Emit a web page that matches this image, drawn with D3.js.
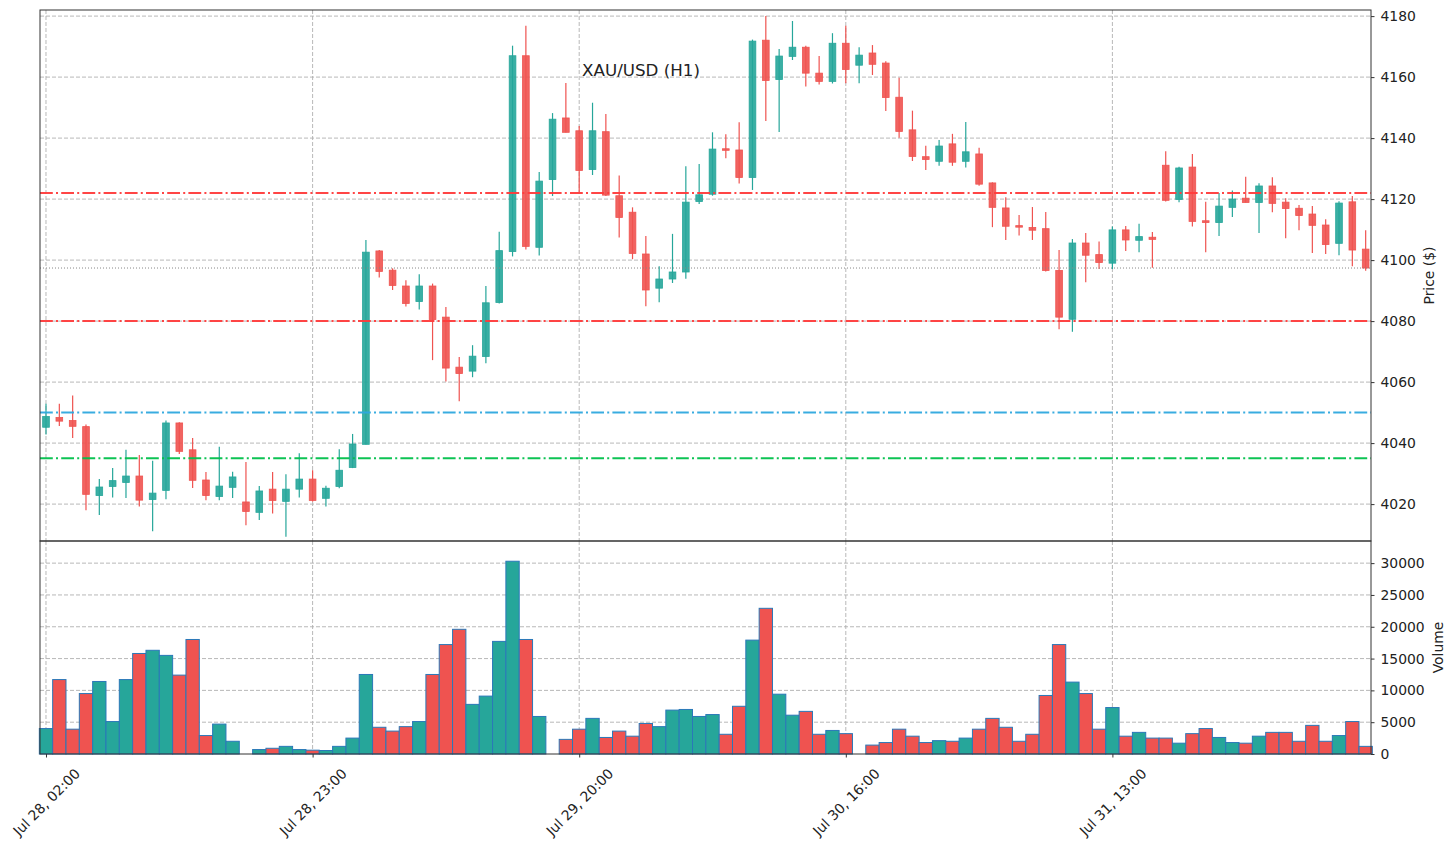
<!DOCTYPE html>
<html>
<head>
<meta charset="utf-8">
<script src="https://cdn.jsdelivr.net/npm/d3@7"></script>
<style>
  body { margin: 0; background: #fff; }
  svg text { font-family: "DejaVu Sans", sans-serif; fill: #222; }
</style>
</head>
<body>
<svg id="chart" width="1455" height="846"></svg>
<script>
// hourly bars, XAU/USD H1
var opens = [4045.2,4048.4,4047.4,4045.4,4022.8,4025.8,4027.1,4029.2,4021.5,4024.5,
  4046.6,4037.8,4027.9,4022.5,4025.5,4020.7,4017.3,4024.9,4020.9,4024.9,
  4028.2,4021.9,4025.8,4032.0,4039.6,4103.0,4096.7,4091.5,4086.4,4091.5,
  4081.3,4064.9,4063.6,4068.4,4086.1,4102.8,4167.0,4104.2,4126.4,4146.6,
  4142.4,4129.7,4142.1,4121.1,4115.7,4102.0,4090.8,4093.8,4096.1,4119.2,
  4121.6,4136.5,4136.1,4127.1,4172.1,4159.2,4166.8,4169.8,4161.3,4158.6,
  4171.1,4163.9,4167.9,4164.6,4153.4,4142.7,4133.9,4132.4,4138.1,4132.4,
  4134.8,4125.3,4117.1,4111.3,4110.7,4110.3,4096.6,4080.6,4105.6,4101.8,
  4099.0,4109.9,4106.5,4107.5,4131.1,4119.9,4130.5,4112.9,4112.3,4117.3,
  4120.3,4118.9,4124.3,4119.0,4117.0,4115.1,4111.5,4105.5,4119.1,4103.6];
var highs = [4052.9,4052.9,4055.6,4046.1,4028.2,4031.8,4037.8,4036.1,4034.2,4047.4,
  4046.8,4041.7,4030.5,4038.8,4030.6,4033.8,4025.9,4030.5,4029.8,4036.7,
  4031.1,4026.0,4038.0,4043.0,4106.6,4103.3,4097.3,4093.4,4095.4,4092.3,
  4084.6,4068.2,4072.1,4091.5,4109.3,4170.3,4176.8,4128.9,4148.2,4158.1,
  4144.0,4151.6,4147.9,4127.7,4117.3,4107.9,4098.0,4108.6,4130.8,4131.5,
  4141.9,4141.3,4145.2,4172.3,4180.0,4169.2,4178.4,4170.3,4166.9,4174.4,
  4176.8,4169.8,4170.5,4165.2,4159.8,4149.0,4137.5,4139.4,4141.4,4145.3,
  4136.8,4125.5,4120.6,4114.8,4117.4,4115.8,4103.3,4106.9,4108.9,4106.1,
  4111.0,4111.2,4111.9,4109.2,4135.7,4130.6,4134.8,4119.1,4122.0,4122.8,
  4127.3,4125.2,4127.2,4120.3,4118.1,4117.7,4113.4,4119.3,4121.0,4109.8];
var lows = [4042.8,4045.6,4041.7,4018.0,4016.4,4022.2,4022.0,4019.2,4011.1,4021.6,
  4036.4,4025.3,4021.3,4021.3,4022.0,4013.1,4014.8,4016.9,4009.3,4022.2,
  4020.8,4019.2,4025.2,4031.8,4039.5,4094.3,4090.2,4084.8,4083.8,4067.2,
  4060.2,4053.7,4061.6,4066.2,4085.8,4101.2,4103.5,4101.5,4121.0,4141.8,
  4122.2,4127.9,4121.0,4107.4,4100.3,4084.9,4086.2,4092.5,4093.9,4118.4,
  4121.1,4133.4,4125.1,4123.0,4145.6,4142.0,4165.6,4156.9,4157.6,4157.9,
  4158.0,4158.0,4160.7,4148.9,4140.1,4132.5,4129.5,4130.9,4130.9,4130.4,
  4124.4,4110.8,4106.6,4108.1,4106.6,4096.3,4077.3,4076.5,4092.7,4097.1,
  4097.1,4103.0,4102.6,4097.5,4119.2,4119.0,4111.0,4102.6,4107.9,4114.1,
  4118.9,4108.9,4115.7,4107.2,4109.8,4102.3,4102.0,4101.6,4098.0,4096.5];
var closes = [4048.7,4047.2,4045.5,4023.2,4025.6,4027.7,4029.2,4021.3,4023.6,4046.6,
  4037.3,4027.8,4022.8,4025.9,4028.9,4017.6,4024.3,4021.2,4024.9,4028.2,
  4021.2,4025.2,4031.1,4039.7,4102.6,4096.3,4091.7,4085.8,4091.5,4080.5,
  4064.6,4062.8,4068.5,4086.0,4103.1,4167.0,4104.5,4125.9,4146.2,4141.9,
  4129.4,4142.4,4121.3,4114.0,4102.2,4090.2,4093.8,4096.1,4119.0,4121.4,
  4136.4,4136.0,4127.1,4171.8,4158.9,4166.9,4169.8,4161.3,4158.6,4171.1,
  4162.5,4167.2,4164.2,4153.3,4142.2,4134.0,4133.0,4137.4,4132.1,4135.5,
  4124.9,4117.3,4111.1,4110.8,4109.8,4096.6,4081.3,4105.6,4101.6,4099.2,
  4109.9,4106.6,4107.7,4106.8,4119.6,4130.2,4112.7,4112.3,4117.7,4120.0,
  4118.9,4124.3,4118.6,4116.9,4114.6,4111.4,4105.1,4118.7,4103.3,4097.4];
var volumes = [4000,11700,3900,9500,11400,5100,11700,15800,16300,15500,
  12400,18000,2900,4700,2000,0,700,900,1200,700,
  600,550,1200,2500,12500,4200,3600,4300,5100,12500,
  17200,19600,7800,9100,17700,30300,18000,5900,0,2300,
  3900,5600,2600,3600,2800,4800,4300,6900,7000,5900,
  6200,3100,7500,17900,22900,9400,6100,6700,3100,3700,
  3200,0,1400,1800,3900,2800,1800,2100,2000,2500,
  3900,5600,4200,2000,3100,9200,17200,11300,9500,3900,
  7300,2800,3400,2500,2500,1700,3200,4000,2600,1800,
  1700,2800,3400,3400,2000,4500,2000,2900,5100,1200];

var tickIdx = [0, 20, 40, 60, 80];
var tickLabels = ["Jul 28, 02:00", "Jul 28, 23:00", "Jul 29, 20:00", "Jul 30, 16:00", "Jul 31, 13:00"];
var priceTicks = [4020, 4040, 4060, 4080, 4100, 4120, 4140, 4160, 4180];
var volumeTicks = [0, 5000, 10000, 15000, 20000, 25000, 30000];
var levels = [4122, 4080, 4050, 4035];
var levelColors = ["#ff3b3b", "#ff3b3b", "#2ea8de", "#00c04b"];

var up = "#26a69a", down = "#ef5350";

var m = {l: 40, r: 84, t: 10},
    W = 1455, pBot = 541, vBot = 754;

var svg = d3.select("#chart");
var bars = d3.range(opens.length).map(function(i) {
  return {i: i, o: opens[i], h: highs[i], l: lows[i], c: closes[i], v: volumes[i]};
});

var x = d3.scaleLinear().domain([-0.45, 99.4]).range([m.l, W - m.r]);
var step = x(1) - x(0);
var y = d3.scaleLinear().domain([4007.9, 4182]).range([pBot, m.t]);
var yv = d3.scaleLinear().domain([0, 33480]).range([vBot, pBot]);

// grids
function grid(g, ys, scale, top, bot) {
  g.selectAll(".hg").data(ys).enter().append("line")
    .attr("x1", m.l).attr("x2", W - m.r)
    .attr("y1", function(d) { return scale(d); }).attr("y2", function(d) { return scale(d); })
    .attr("stroke", "#b0b0b0").attr("stroke-dasharray", "4,2").attr("stroke-width", 0.9);
  g.selectAll(".vg").data(tickIdx).enter().append("line")
    .attr("x1", function(d) { return x(d); }).attr("x2", function(d) { return x(d); })
    .attr("y1", top).attr("y2", bot)
    .attr("stroke", "#b0b0b0").attr("stroke-dasharray", "4,2").attr("stroke-width", 0.9);
}
grid(svg.append("g"), priceTicks, y, m.t, pBot);
grid(svg.append("g"), volumeTicks.slice(1), yv, pBot, vBot);

// candles
var cg = svg.append("g");
cg.selectAll(".wick").data(bars).enter().append("line")
  .attr("x1", function(d) { return x(d.i); }).attr("x2", function(d) { return x(d.i); })
  .attr("y1", function(d) { return y(d.h); }).attr("y2", function(d) { return y(d.l); })
  .attr("stroke", function(d) { return d.c >= d.o ? up : down; })
  .attr("stroke-width", 1.2);
cg.selectAll(".body").data(bars).enter().append("rect")
  .attr("x", function(d) { return x(d.i) - step * 0.25; })
  .attr("width", step * 0.5)
  .attr("y", function(d) { return y(Math.max(d.o, d.c)); })
  .attr("height", function(d) { return Math.max(1, Math.abs(y(d.o) - y(d.c))); })
  .attr("fill", function(d) { return d.c >= d.o ? up : down; })
  .attr("fill-opacity", 0.9)
  .attr("stroke", function(d) { return d.c >= d.o ? up : down; })
  .attr("stroke-width", 0.8);

// volume bars
svg.append("g").selectAll("rect").data(bars.filter(function(d) { return d.v > 0; }))
  .enter().append("rect")
  .attr("x", function(d) { return x(d.i) - step / 2; })
  .attr("width", step)
  .attr("y", function(d) { return yv(d.v); })
  .attr("height", function(d) { return vBot - yv(d.v); })
  .attr("fill", function(d) { return d.c >= d.o ? up : down; })
  .attr("stroke", "#2a78b8").attr("stroke-width", 1);

// level lines
svg.append("g").selectAll("line").data(levels).enter().append("line")
  .attr("x1", m.l).attr("x2", W - m.r)
  .attr("y1", function(d) { return y(d); }).attr("y2", function(d) { return y(d); })
  .attr("stroke", function(d, i) { return levelColors[i]; })
  .attr("stroke-width", 2).attr("stroke-opacity", 0.95)
  .attr("stroke-dasharray", "12.8,3.2,2,3.2");

// last price
var last = closes[closes.length - 1];
svg.append("line")
  .attr("x1", m.l).attr("x2", W - m.r)
  .attr("y1", y(last)).attr("y2", y(last))
  .attr("stroke", "#888").attr("stroke-width", 1).attr("stroke-dasharray", "1,2");

// frames
svg.append("rect").attr("x", m.l).attr("y", m.t).attr("width", W - m.r - m.l).attr("height", pBot - m.t)
  .attr("fill", "none").attr("stroke", "#333").attr("stroke-width", 1);
svg.append("rect").attr("x", m.l).attr("y", pBot).attr("width", W - m.r - m.l).attr("height", vBot - pBot)
  .attr("fill", "none").attr("stroke", "#333").attr("stroke-width", 1);

// axes
function styleAxis(g) {
  g.select(".domain").remove();
  g.selectAll(".tick line").attr("stroke", "#333");
  g.selectAll(".tick text").attr("font-size", "13.9px").attr("fill", "#222");
}
svg.append("g").attr("transform", "translate(" + (W - m.r) + ",0)")
  .call(d3.axisRight(y).tickValues(priceTicks).tickSize(3.5).tickPadding(6).tickFormat(d3.format("d")))
  .call(styleAxis);
svg.append("g").attr("transform", "translate(" + (W - m.r) + ",0)")
  .call(d3.axisRight(yv).tickValues(volumeTicks).tickSize(3.5).tickPadding(6).tickFormat(d3.format("d")))
  .call(styleAxis);

var xa = svg.append("g").attr("transform", "translate(0," + vBot + ")")
  .call(d3.axisBottom(x).tickValues(tickIdx).tickSize(3.5)
    .tickFormat(function(d, i) { return tickLabels[i]; }))
  .call(styleAxis);
xa.selectAll(".tick text")
  .attr("y", 0).attr("dy", null)
  .attr("text-anchor", "middle").attr("dominant-baseline", "central")
  .attr("transform", "translate(0,48) rotate(-45)");

// labels
svg.append("text").attr("transform", "translate(1429," + ((m.t + pBot) / 2) + ") rotate(-90)")
  .attr("text-anchor", "middle").attr("dominant-baseline", "central")
  .attr("font-size", "13.9px").text("Price ($)");
svg.append("text").attr("transform", "translate(1438," + ((pBot + vBot) / 2) + ") rotate(-90)")
  .attr("text-anchor", "middle").attr("dominant-baseline", "central")
  .attr("font-size", "13.9px").text("Volume");

svg.append("text").attr("x", 641).attr("y", 76)
  .attr("text-anchor", "middle").attr("font-size", "16.7px").text("XAU/USD (H1)");
</script>
</body>
</html>
